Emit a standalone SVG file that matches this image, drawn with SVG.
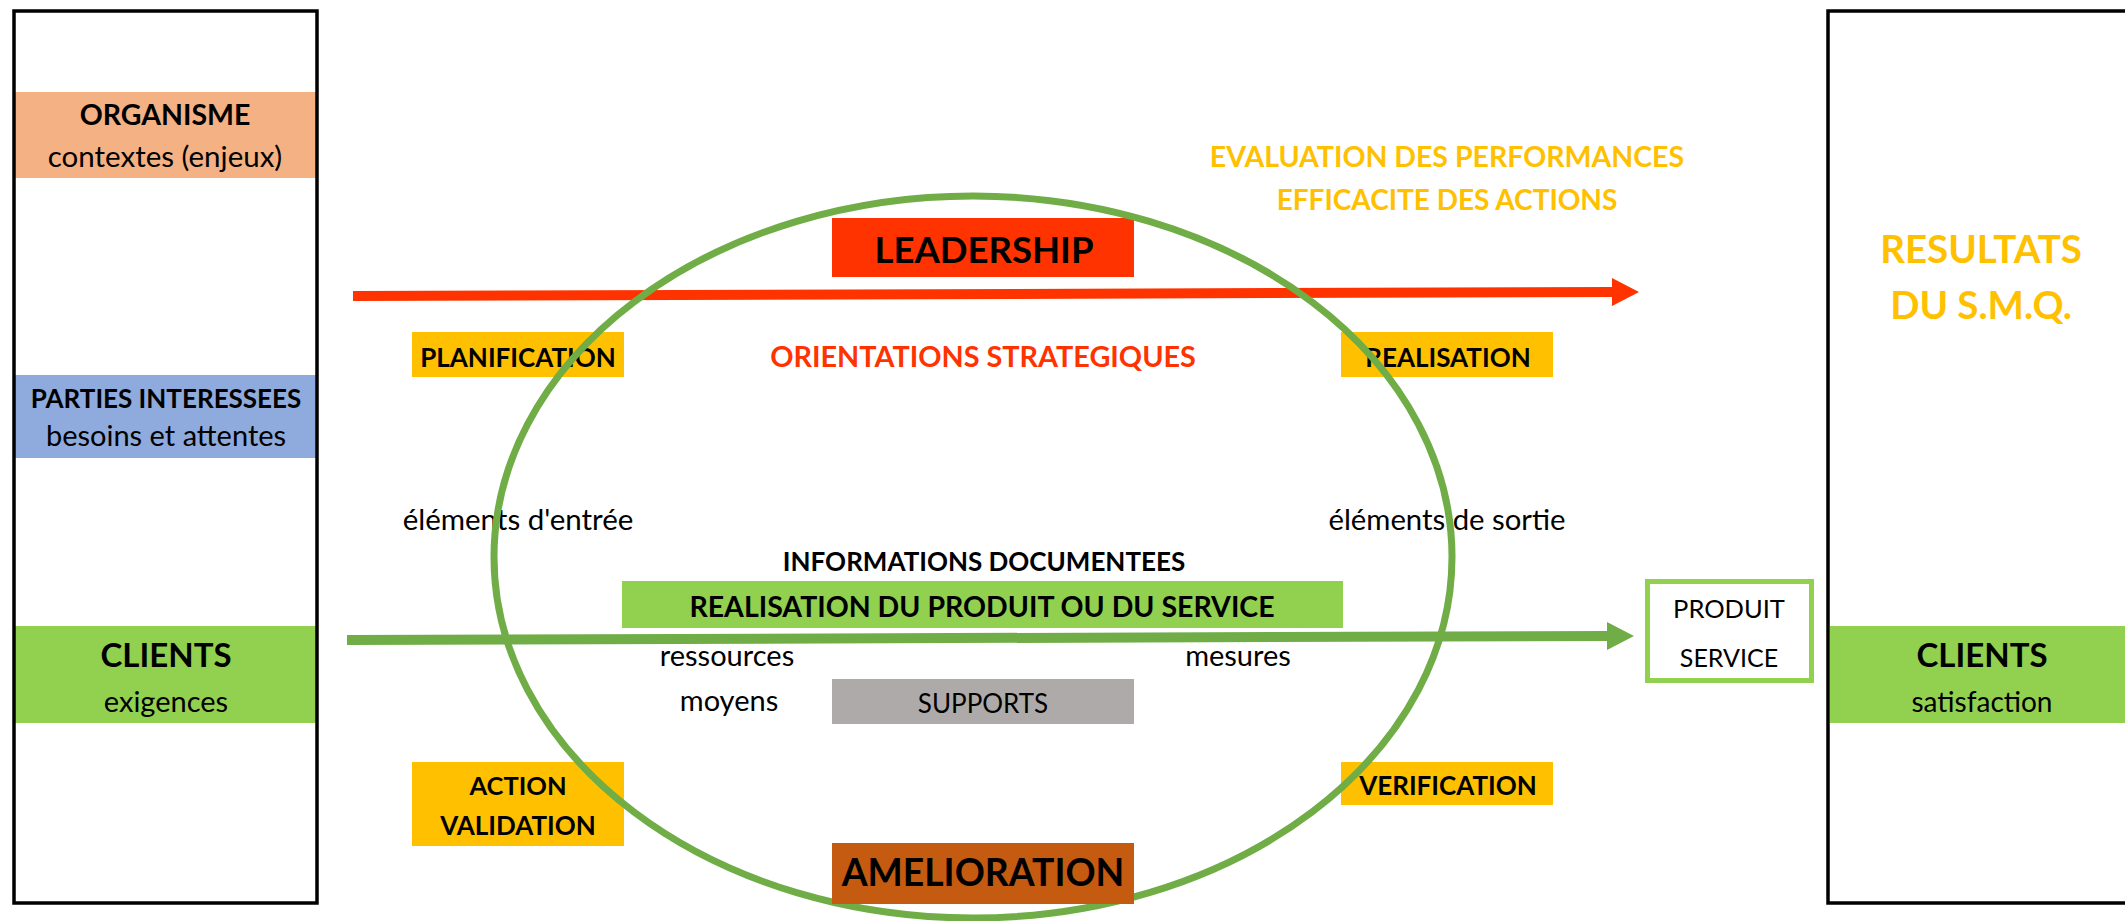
<svg xmlns="http://www.w3.org/2000/svg" width="2125" height="921" viewBox="0 0 2125 921">
<defs>
<style>
text{font-family:Lato,"Open Sans","Liberation Sans",sans-serif;text-anchor:middle;fill:#000}
.b{font-weight:700}
.r{font-weight:400}
.panel{fill:none;stroke:#000;stroke-width:3.5}
.yel{fill:#FFC000}
.gold{fill:#FFC000}
.redt{fill:#FF3300}
.conn{fill:none;stroke-width:10}
</style>
<marker id="headRed" markerUnits="userSpaceOnUse" markerWidth="30" markerHeight="30" refX="0" refY="14" orient="auto" viewBox="0 0 30 30">
<path d="M0,0 L27,14 L0,28 z" fill="#FF3300"/>
</marker>
<marker id="headGreen" markerUnits="userSpaceOnUse" markerWidth="30" markerHeight="30" refX="0" refY="14" orient="auto" viewBox="0 0 30 30">
<path d="M0,0 L27,14 L0,28 z" fill="#70AD47"/>
</marker>
</defs>
<rect width="2125" height="921" fill="#fff"/>

<g id="organisme">
<rect x="15" y="92" width="301" height="86" fill="#F4B183"/>
<text class="b" x="165" y="125" font-size="28.5">ORGANISME</text>
<text class="r" x="165" y="167" font-size="29.5">contextes (enjeux)</text>
</g>
<g id="parties-interessees">
<rect x="15" y="375" width="301" height="83" fill="#8FAADC"/>
<text class="b" x="166" y="408" font-size="26">PARTIES INTERESSEES</text>
<text class="r" x="166" y="446" font-size="29">besoins et attentes</text>
</g>
<g id="clients-exigences">
<rect x="15" y="626" width="301" height="97" fill="#92D050"/>
<text class="b" x="166" y="667" font-size="33">CLIENTS</text>
<text class="r" x="166" y="712" font-size="29">exigences</text>
</g>
<g id="left-panel">
<rect class="panel" x="14" y="11" width="303" height="892"/>
</g>

<g id="clients-satisfaction">
<rect x="1830" y="626" width="300" height="97" fill="#92D050"/>
<text class="b" x="1982" y="667" font-size="33">CLIENTS</text>
<text class="r" x="1982" y="712" font-size="28">satisfaction</text>
</g>
<g id="resultats">
<rect class="panel" x="1828" y="11" width="400" height="892"/>
<text class="b gold" x="1981" y="263" font-size="38.5">RESULTATS</text>
<text class="b gold" x="1981" y="319" font-size="38.5">DU S.M.Q.</text>
</g>

<g id="evaluation">
<text class="b gold" x="1447" y="167" font-size="28.5">EVALUATION DES PERFORMANCES</text>
<text class="b gold" x="1447" y="210" font-size="28">EFFICACITE DES ACTIONS</text>
</g>

<g id="orientations">
<text class="b redt" x="983" y="367" font-size="28.8">ORIENTATIONS STRATEGIQUES</text>
</g>

<g id="planification">
<rect class="yel" x="412" y="332" width="212" height="45"/>
<text class="b" x="518" y="367" font-size="26">PLANIFICATION</text>
</g>
<g id="realisation">
<rect class="yel" x="1341" y="332" width="212" height="45"/>
<text class="b" x="1448" y="367" font-size="26">REALISATION</text>
</g>
<g id="action-validation">
<rect class="yel" x="412" y="762" width="212" height="84"/>
<text class="b" x="518" y="795" font-size="25.5">ACTION</text>
<text class="b" x="518" y="835" font-size="26">VALIDATION</text>
</g>
<g id="verification">
<rect class="yel" x="1341" y="762" width="212" height="43"/>
<text class="b" x="1448" y="795" font-size="26">VERIFICATION</text>
</g>

<g id="elements-entree">
<text class="r" x="518" y="530" font-size="29.5">éléments d'entrée</text>
</g>
<g id="elements-sortie">
<text class="r" x="1447" y="530" font-size="29.3">éléments de sortie</text>
</g>

<g id="informations-documentees">
<text class="b" x="984" y="571" font-size="26">INFORMATIONS DOCUMENTEES</text>
</g>
<g id="realisation-produit">
<rect x="622" y="581" width="721" height="47" fill="#92D050"/>
<text class="b" x="982" y="617" font-size="28.5">REALISATION DU PRODUIT OU DU SERVICE</text>
</g>
<g id="ressources">
<text class="r" x="727" y="666" font-size="29">ressources</text>
</g>
<g id="moyens">
<text class="r" x="729" y="711" font-size="29">moyens</text>
</g>
<g id="mesures">
<text class="r" x="1238" y="666" font-size="29">mesures</text>
</g>
<g id="supports">
<rect x="832" y="679" width="302" height="45" fill="#AEAAAA"/>
<text class="r" x="983" y="713" font-size="26">SUPPORTS</text>
</g>

<g id="leadership">
<rect x="832" y="218" width="302" height="59" fill="#FF3300"/>
<text class="b" x="984" y="263" font-size="36.5">LEADERSHIP</text>
</g>

<g id="produit-service">
<rect x="1647.5" y="581.5" width="164" height="99" fill="#fff" stroke="#92D050" stroke-width="5"/>
<text class="r" x="1729" y="618" font-size="25.5">PRODUIT</text>
<text class="r" x="1729" y="667" font-size="25">SERVICE</text>
</g>

<g id="connectors">
<path class="conn" d="M353,296 L1612,292" stroke="#FF3300" marker-end="url(#headRed)"/>
<path class="conn" d="M347,640 L1607,636" stroke="#70AD47" marker-end="url(#headGreen)"/>
</g>

<g id="cycle">
<ellipse cx="973" cy="557" rx="479" ry="361" fill="none" stroke="#70AD47" stroke-width="7"/>
</g>

<g id="amelioration">
<rect x="832" y="843" width="302" height="61" fill="#C55A11"/>
<text class="b" x="983" y="886" font-size="37.3">AMELIORATION</text>
</g>
</svg>
